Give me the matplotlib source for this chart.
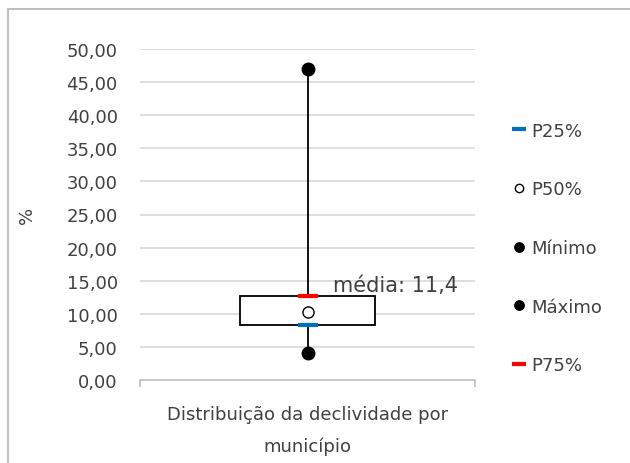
import matplotlib
matplotlib.use("Agg")
from matplotlib import pyplot as plt
from matplotlib.patches import Rectangle

# estatísticas da declividade (%)
categoria = ["Distribuição da declividade por\nmunicípio"]
p25 = [8.3]
p50 = [10.2]
p75 = [12.7]
minimo = [4.1]
maximo = [47.0]
media = 11.4

y_ticks = [0, 5, 10, 15, 20, 25, 30, 35, 40, 45, 50]

plt.rcParams['font.family'] = ['DejaVu Sans']
cor_texto = '#404040'

fig = plt.figure(figsize=(6.3, 4.64), dpi=100)
ax = fig.add_axes([140/630, 1 - 381/464, 335/630, 331/464])

x = [0.5]
cinza_grade = '#d9d9d9'

# grade horizontal
for v in y_ticks[1:]:
    ax.axhline(v, color=cinza_grade, lw=1.2, zorder=0)

# linha mínimo-máximo
ax.plot([x[0], x[0]], [minimo[0], maximo[0]], color='black', lw=1.3, zorder=1)

# caixa P25-P75
larg = 0.405
ax.add_patch(Rectangle((x[0] - larg/2, p25[0]), larg, p75[0] - p25[0],
                       facecolor='white', edgecolor='black', lw=1.3, zorder=2))

h_p25, = ax.plot(x, p25, linestyle='none', marker='_', ms=14, mew=3,
                 color='#0070c0', zorder=3, label='P25%')
h_p50, = ax.plot(x, p50, linestyle='none', marker='o', ms=8, mew=1,
                 mfc='white', mec='black', zorder=3, label='P50%')
h_min, = ax.plot(x, minimo, linestyle='none', marker='o', ms=9,
                 color='black', zorder=3, label='Mínimo')
h_max, = ax.plot(x, maximo, linestyle='none', marker='o', ms=9,
                 color='black', zorder=3, label='Máximo')
h_p75, = ax.plot(x, p75, linestyle='none', marker='_', ms=14, mew=3,
                 color='#ff0000', zorder=3, label='P75%')

ax.text(x[0] + 0.075, p75[0] + 0.2, 'média: ' + ('%.1f' % media).replace('.', ','),
        fontsize=15, color=cor_texto, va='bottom', ha='left', zorder=4)

ax.set_xlim(0, 1)
ax.set_ylim(0, 50)
ax.set_yticks(y_ticks)
ax.set_yticklabels([('%.2f' % v).replace('.', ',') for v in y_ticks],
                   fontsize=13, color=cor_texto)
ax.tick_params(axis='y', length=0, pad=16)

ax.set_xticks(x)
ax.set_xticklabels(categoria, fontsize=13, color=cor_texto, linespacing=1.95)
ax.set_xticks([0, 1], minor=True)
ax.tick_params(axis='x', which='major', length=0, pad=18)
ax.tick_params(axis='x', which='minor', length=5, color='#bfbfbf', width=1.2)

ax.set_ylabel('%', fontsize=13, color=cor_texto)
ax.yaxis.set_label_coords(-104/335, 0.5)

for s in ['top', 'right', 'left']:
    ax.spines[s].set_visible(False)
ax.spines['bottom'].set_color('#bfbfbf')
ax.spines['bottom'].set_linewidth(1.2)

leg = fig.legend(handles=[h_p25, h_p50, h_min, h_max, h_p75],
                 loc='center left', bbox_to_anchor=(497/630, 1 - 249/464),
                 frameon=False, fontsize=13, labelspacing=2.25,
                 handlelength=0.6, handletextpad=0.4, markerscale=0.75)
for t in leg.get_texts():
    t.set_color(cor_texto)

# moldura do gráfico
fig.patches.append(Rectangle((8/630, -0.1), 1.2, 1 - 10/464 + 0.1,
                             transform=fig.transFigure, fill=False,
                             edgecolor='#bfbfbf', lw=1.5))

fig.savefig('out.png', dpi=100)
